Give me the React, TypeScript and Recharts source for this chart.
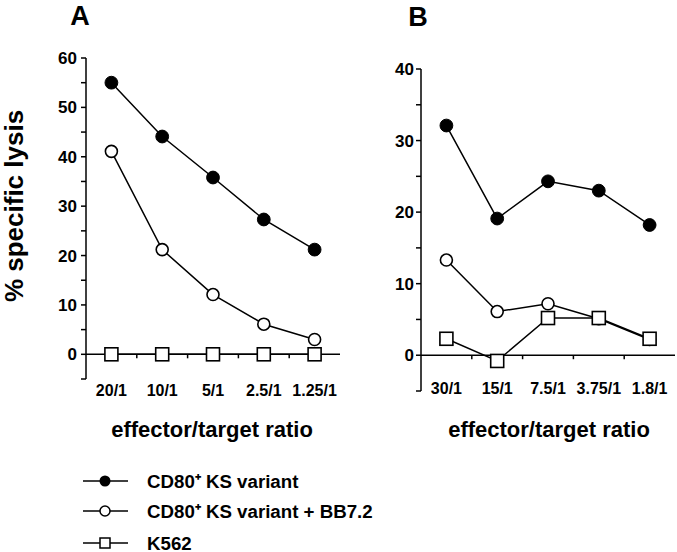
import React from 'react';
import { LineChart, Line, XAxis, YAxis, ReferenceLine, ReferenceDot, Legend } from 'recharts';

// effector/target ratios
const ratiosA = ['20/1', '10/1', '5/1', '2.5/1', '1.25/1'];
const ratiosB = ['30/1', '15/1', '7.5/1', '3.75/1', '1.8/1'];

// % specific lysis, panel A
const ksA = [55, 44.1, 35.8, 27.3, 21.2];
const ksBlockedA = [41.1, 21.2, 12.1, 6.1, 3.0];
const k562A = [0, 0, 0, 0, 0];

// % specific lysis, panel B
const ksB = [32.1, 19.1, 24.3, 23.0, 18.2];
const ksBlockedB = [13.3, 6.1, 7.2, 5.1, 2.2];
const k562B = [2.3, -0.8, 5.2, 5.2, 2.3];

const yTicksA = [-5, 0, 5, 10, 15, 20, 25, 30, 35, 40, 45, 50, 55, 60];
const yTicksB = [-5, 0, 5, 10, 15, 20, 25, 30, 35, 40];

const seriesNames = ['CD80⁺ KS variant', 'CD80⁺ KS variant + BB7.2', 'K562'];

const FONT = '"Liberation Sans", Arial, sans-serif';

const buildRows = (ratios: string[], ks: number[], blocked: number[], k562: number[]) =>
  ratios.map((r, i) => ({ pos: i + 0.5, ratio: r, ks: ks[i], blocked: blocked[i], k562: k562[i] }));

const dataA = buildRows(ratiosA, ksA, ksBlockedA, k562A);
const dataB = buildRows(ratiosB, ksB, ksBlockedB, k562B);

const FilledDot = (p: any) => <circle key={p.index} cx={p.cx} cy={p.cy} r={6.4} fill="#000" stroke="#000" />;
const OpenDot = (p: any) => (
  <circle key={p.index} cx={p.cx} cy={p.cy} r={6} fill="#fff" stroke="#000" strokeWidth={1.6} />
);
const SquareDot = (p: any) => (
  <rect key={p.index} x={p.cx - 6.5} y={p.cy - 6.5} width={13} height={13} fill="#fff" stroke="#000" strokeWidth={1.6} />
);

const boundaryTick = (p: any) => (
  <line x1={p.cx} x2={p.cx} y1={p.cy} y2={p.cy + 4} stroke="#000" strokeWidth={1.5} />
);

const renderLegend = () => {
  const rowY = [16, 46, 78];
  return (
    <svg width={400} height={100} style={{ display: 'block' }}>
      {seriesNames.map((name, i) => (
        <g key={name}>
          <line x1={0} x2={45} y1={rowY[i]} y2={rowY[i]} stroke="#000" strokeWidth={1.5} />
          {i === 0 && <circle cx={22} cy={rowY[i]} r={5.5} fill="#000" />}
          {i === 1 && <circle cx={22} cy={rowY[i]} r={5} fill="#fff" stroke="#000" strokeWidth={1.5} />}
          {i === 2 && <rect x={17} y={rowY[i] - 5} width={10} height={10} fill="#fff" stroke="#000" strokeWidth={1.5} />}
          <text x={64} y={rowY[i]} dominantBaseline="central" fontSize={18.7} fontWeight={700} fontFamily={FONT} fill="#000">
            {name}
          </text>
        </g>
      ))}
    </svg>
  );
};

type PanelProps = {
  data: any[];
  ratios: string[];
  yTicks: number[];
  width: number;
  height: number;
  margin: { top: number; right: number; bottom: number; left: number };
  labelShift: number;
  tickMargin: number;
  legend?: boolean;
};

const Panel = ({ data, ratios, yTicks, width, height, margin, labelShift, tickMargin, legend }: PanelProps) => {
  const RatioTick = (p: any) => (
    <text
      x={p.x}
      y={p.y + labelShift}
      textAnchor="middle"
      dominantBaseline="central"
      fontSize={16}
      fontWeight={700}
      fontFamily={FONT}
      fill="#000"
    >
      {ratios[Math.floor(p.payload.value)]}
    </text>
  );
  return (
    <LineChart width={width} height={height} data={data} margin={margin}>
      <XAxis
        type="number"
        dataKey="pos"
        domain={[0, 5]}
        ticks={[0.5, 1.5, 2.5, 3.5, 4.5]}
        axisLine={false}
        tickLine={false}
        tickSize={0}
        tickMargin={0}
        height={30}
        tick={RatioTick}
      />
      <YAxis
        type="number"
        domain={[yTicks[0], yTicks[yTicks.length - 1]]}
        ticks={yTicks}
        interval={0}
        width={40}
        tickSize={5}
        tickMargin={tickMargin}
        axisLine={{ stroke: '#000', strokeWidth: 1.5 }}
        tickLine={{ stroke: '#000', strokeWidth: 1.5 }}
        tick={{ fill: '#000', fontSize: 17, fontWeight: 700, fontFamily: FONT }}
        tickFormatter={(v: number) => (v >= 0 && v % 10 === 0 ? String(v) : '')}
      />
      <ReferenceLine y={0} stroke="#000" strokeWidth={1.5} />
      {[1, 2, 3, 4].map((b) => (
        <ReferenceDot key={b} x={b} y={0} shape={boundaryTick} />
      ))}
      <Line dataKey="ks" name={seriesNames[0]} stroke="#000" strokeWidth={1.5} dot={FilledDot} isAnimationActive={false} />
      <Line dataKey="blocked" name={seriesNames[1]} stroke="#000" strokeWidth={1.5} dot={OpenDot} isAnimationActive={false} />
      <Line dataKey="k562" name={seriesNames[2]} stroke="#000" strokeWidth={1.5} dot={SquareDot} isAnimationActive={false} />
      {legend && (
        <Legend
          layout="vertical"
          align="center"
          verticalAlign="middle"
          content={renderLegend}
          wrapperStyle={{ position: 'absolute', left: 83, top: 465, width: 400, height: 100 }}
        />
      )}
    </LineChart>
  );
};

export default function App() {
  const textStyle = { fontFamily: FONT, fontWeight: 700, fill: '#000' } as const;
  return (
    <div style={{ position: 'absolute', left: 0, top: 0, width: 677, height: 552, background: '#fff' }}>
      <div style={{ position: 'absolute', left: 0, top: 0 }}>
        <Panel
          data={dataA}
          ratios={ratiosA}
          yTicks={yTicksA}
          width={340}
          height={552}
          margin={{ top: 58, right: 0, bottom: 143, left: 46 }}
          labelShift={11}
          tickMargin={4}
          legend
        />
      </div>
      <div style={{ position: 'absolute', left: 340, top: 0 }}>
        <Panel
          data={dataB}
          ratios={ratiosB}
          yTicks={yTicksB}
          width={337}
          height={440}
          margin={{ top: 69, right: 2, bottom: 19, left: 41 }}
          labelShift={-3}
          tickMargin={2}
        />
      </div>
      <svg width={677} height={552} style={{ position: 'absolute', left: 0, top: 0, pointerEvents: 'none' }}>
        <text x={80} y={25} textAnchor="middle" fontSize={27} {...textStyle}>A</text>
        <text x={418} y={26} textAnchor="middle" fontSize={27} {...textStyle}>B</text>
        <text x={23} y={206} textAnchor="middle" fontSize={26} transform="rotate(-90, 23, 206)" {...textStyle}>
          % specific lysis
        </text>
        <text x={212} y={437} textAnchor="middle" fontSize={22} {...textStyle}>effector/target ratio</text>
        <text x={549} y={437} textAnchor="middle" fontSize={22} {...textStyle}>effector/target ratio</text>
      </svg>
    </div>
  );
}
